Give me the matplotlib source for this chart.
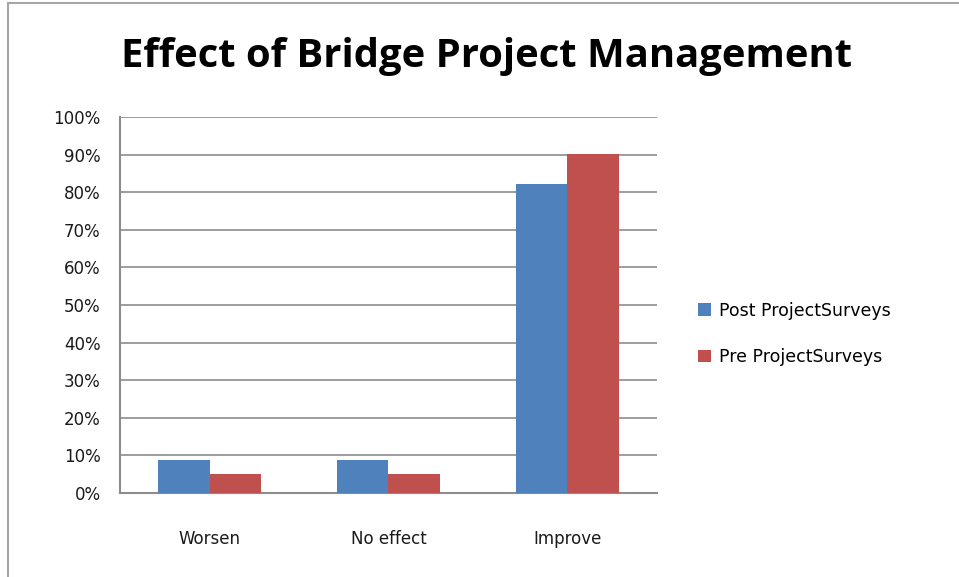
import numpy as np
import matplotlib.pyplot as plt
from matplotlib.patches import Rectangle
from matplotlib.ticker import PercentFormatter

categories = ["Worsen", "No effect", "Improve"]
postSurvey = [8.8, 8.8, 82.3]
preSurvey = [5.1, 5.1, 90.2]
seriesNames = ["Post ProjectSurveys", "Pre ProjectSurveys"]
yTicks = [0, 10, 20, 30, 40, 50, 60, 70, 80, 90, 100]

plt.rcParams["font.family"] = ["DejaVu Sans"]

fig = plt.figure(figsize=(9.59, 5.77), dpi=100)

#Outer chart border, cut off on right and bottom like the screenshot
fig.patches.append(Rectangle((8 / 959, -0.05), 1.2, 1 - 3 / 577 + 0.05, transform=fig.transFigure,
                             fill=False, edgecolor="#a6a6a6", linewidth=1.5))

ax = fig.add_axes([120 / 959, 1 - 493 / 577, (657 - 120) / 959, (493 - 117) / 577])

x = np.arange(len(categories))
barWidth = 0.285
ax.bar(x - barWidth / 2, postSurvey, barWidth, color="#4f81bd", label=seriesNames[0], zorder=3)
ax.bar(x + barWidth / 2, preSurvey, barWidth, color="#c0504d", label=seriesNames[1], zorder=3)

ax.set_xlim(-0.5, 2.5)
ax.set_ylim(0, 100)
ax.set_yticks(yTicks)
ax.yaxis.set_major_formatter(PercentFormatter(decimals=0))
ax.set_xticks(x)
ax.set_xticklabels(categories)
ax.tick_params(axis="both", length=0, labelsize=12, colors="#1a1a1a")
ax.tick_params(axis="x", pad=27)
ax.tick_params(axis="y", pad=14)
ax.grid(axis="y", color="#8c8c8c", linewidth=1.2, zorder=0)

for side in ["top", "right"]:
    ax.spines[side].set_visible(False)
for side in ["left", "bottom"]:
    ax.spines[side].set_color("#8c8c8c")
    ax.spines[side].set_linewidth(1.5)

fig.text(487 / 959, 1 - 57 / 577, "Effect of Bridge Project Management", ha="center", va="center",
         fontsize=28.8, fontweight="bold", family="Open Sans")

ax.legend(loc="center left", bbox_to_anchor=(1.048, 0.423), frameon=False, fontsize=12.5,
          handlelength=0.7, handleheight=0.7, labelspacing=1.65, handletextpad=0.5)

fig.savefig("out.png", dpi=100)
